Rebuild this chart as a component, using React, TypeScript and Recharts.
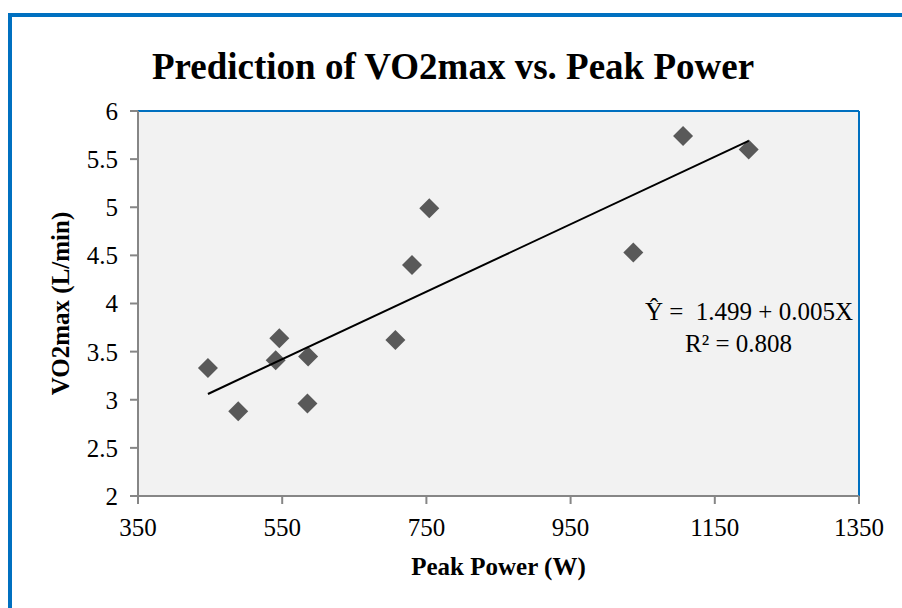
import { ScatterChart, Scatter, XAxis, YAxis, CartesianGrid, ReferenceLine } from 'recharts';

const powerW = [447, 489, 541, 546, 585, 586, 707, 730, 754, 1037, 1106, 1197];
const vo2max = [3.33, 2.88, 3.41, 3.64, 2.96, 3.45, 3.62, 4.4, 4.99, 4.53, 5.74, 5.6];
// fitted line end points
const trendPower = [447, 1197];
const trendVo2 = [3.06, 5.69];
const xTicks = [350, 550, 750, 950, 1150, 1350];
const yTicks = [2, 2.5, 3, 3.5, 4, 4.5, 5, 5.5, 6];

const points = powerW.map((x, i) => ({ x, y: vo2max[i] }));
const trend = trendPower.map((x, i) => ({ x, y: trendVo2[i] }));

const serif = '"Liberation Serif", "Times New Roman", serif';
const blue = '#0070c0';
const axisGray = '#868686';

function Diamond(props: any) {
  const { cx, cy } = props;
  const r = 10;
  return (
    <polygon
      points={`${cx},${cy - r} ${cx + r},${cy} ${cx},${cy + r} ${cx - r},${cy}`}
      fill="#595959"
    />
  );
}

export default function App() {
  const tick = { fill: '#000', fontSize: 25, fontFamily: serif };
  return (
    <div style={{ position: 'relative', width: 902, height: 608, overflow: 'hidden', background: '#fff' }}>
      <style>{'body{margin:0;overflow:hidden}'}</style>
      <div
        style={{
          position: 'absolute',
          left: 8,
          top: 13,
          width: 1000,
          height: 1000,
          border: `4px solid ${blue}`,
        }}
      />
      <div
        style={{
          position: 'absolute',
          left: 0,
          top: 48,
          width: 906,
          textAlign: 'center',
          fontFamily: serif,
          fontWeight: 'bold',
          fontSize: 37,
          lineHeight: '37px',
        }}
      >
        Prediction of VO2max vs. Peak Power
      </div>
      <div style={{ position: 'absolute', left: 0, top: 0 }}>
        <ScatterChart width={902} height={608} margin={{ top: 111, right: 43, bottom: 0, left: 0 }}>
          <CartesianGrid fill="#f2f2f2" horizontal={false} vertical={false} stroke="none" />
          <XAxis
            type="number"
            dataKey="x"
            domain={[350, 1350]}
            ticks={xTicks}
            height={112}
            tick={tick}
            tickSize={8}
            tickMargin={14}
            axisLine={{ stroke: axisGray, strokeWidth: 2 }}
            tickLine={{ stroke: axisGray, strokeWidth: 2 }}
            label={{
              value: 'Peak Power (W)',
              position: 'insideBottom',
              offset: 33,
              style: { fontFamily: serif, fontWeight: 'bold', fontSize: 25, fill: '#000' },
            }}
          />
          <YAxis
            type="number"
            dataKey="y"
            domain={[2, 6]}
            ticks={yTicks}
            width={138}
            tick={tick}
            tickSize={8}
            tickMargin={12}
            axisLine={{ stroke: axisGray, strokeWidth: 2 }}
            tickLine={{ stroke: axisGray, strokeWidth: 2 }}
            label={{
              value: 'VO2max (L/min)',
              angle: -90,
              position: 'insideLeft',
              offset: 60,
              style: { textAnchor: 'middle', fontFamily: serif, fontWeight: 'bold', fontSize: 25, fill: '#000' },
            }}
          />
          <ReferenceLine y={6} stroke={blue} strokeWidth={2} />
          <ReferenceLine x={1350} stroke={blue} strokeWidth={2} />
          <Scatter data={points} shape={<Diamond />} isAnimationActive={false} />
          <Scatter
            data={trend}
            line={{ stroke: '#000', strokeWidth: 2 }}
            shape={() => <g />}
            isAnimationActive={false}
          />
        </ScatterChart>
      </div>
      <div
        style={{
          position: 'absolute',
          right: 49,
          top: 299,
          fontFamily: serif,
          fontSize: 25,
          lineHeight: '25px',
          whiteSpace: 'pre',
        }}
      >
        {'Ŷ =  1.499 + 0.005X'}
      </div>
      <div
        style={{
          position: 'absolute',
          left: 685,
          top: 331,
          fontFamily: serif,
          fontSize: 25,
          lineHeight: '25px',
          whiteSpace: 'pre',
        }}
      >
        {'R² = 0.808'}
      </div>
    </div>
  );
}
